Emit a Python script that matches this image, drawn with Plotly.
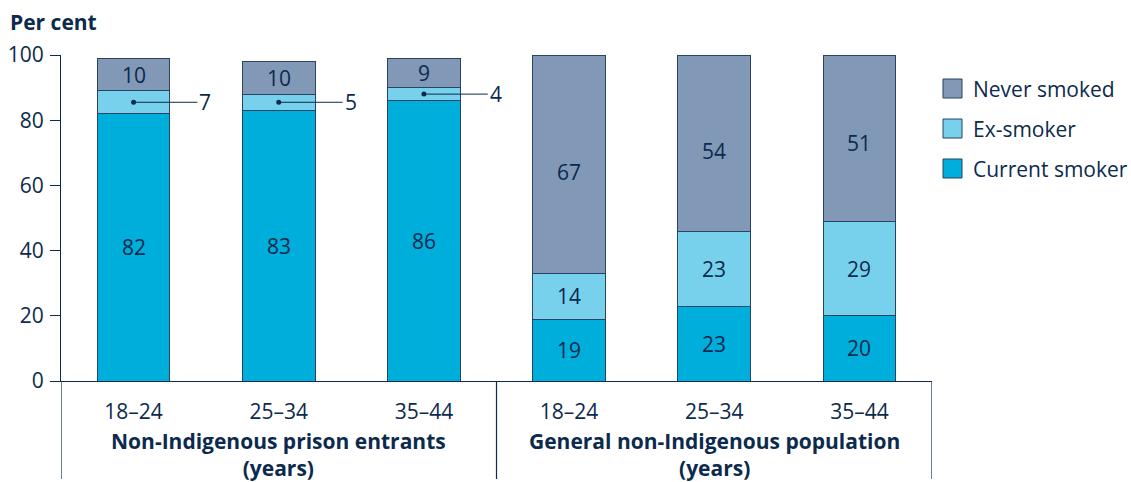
import plotly.graph_objects as go

categories = ["18–24", "25–34", "35–44", "18–24", "25–34", "35–44"]
groups = ["Non-Indigenous prison entrants<br>(years)", "General non-Indigenous population<br>(years)"]
current_smoker = [82, 83, 86, 19, 23, 20]
ex_smoker = [7, 5, 4, 14, 23, 29]
never_smoked = [10, 10, 9, 67, 54, 51]

series = [
    ("Current smoker", current_smoker, "#00aedb"),
    ("Ex-smoker", ex_smoker, "#77d1ec"),
    ("Never smoked", never_smoked, "#8198b6"),
]
# per-label vertical nudges (pixels) used by the original layout for the top segment labels
label_nudge = {"Never smoked": [0, 0, 0, -8, -8, -5]}

NAVY = "#0c2a4d"
FONT = "Open Sans"
FS = 21
L, R, T, B = 61, 199, 55, 101
W, H = 1131, 482
PW, PH = W - L - R, H - T - B

def px(xp):
    return (xp - L) / PW

def py(yp):
    return (H - B - yp) / PH

xs = list(range(len(categories)))
fig = go.Figure()
for name, vals, col in series:
    fig.add_trace(go.Bar(
        x=xs, y=vals, name=name, width=0.5,
        marker=dict(color=col, line=dict(color="#2a4263", width=1)),
        showlegend=False, hoverinfo="skip",
    ))

annotations = []
shapes = []
dot_x, dot_y = [], []
base = [0] * len(xs)
for name, vals, col in series:
    nud = label_nudge.get(name, [0] * len(xs))
    for i, v in enumerate(vals):
        mid = base[i] + v / 2
        if v < 8:
            dot_x.append(xs[i]); dot_y.append(mid)
            shapes.append(dict(type="line", xref="x", yref="y", x0=xs[i], x1=xs[i] + 0.44,
                               y0=mid, y1=mid, line=dict(color=NAVY, width=1)))
            annotations.append(dict(x=xs[i] + 0.44, y=mid, xref="x", yref="y", text=str(v),
                                    showarrow=False, xanchor="left", yanchor="middle",
                                    font=dict(size=FS, color=NAVY, family=FONT)))
        else:
            annotations.append(dict(x=xs[i], y=mid, xref="x", yref="y", text=str(v),
                                    showarrow=False, xanchor="center", yanchor="middle",
                                    yshift=nud[i],
                                    font=dict(size=FS, color=NAVY, family=FONT)))
        base[i] += v

fig.add_trace(go.Scatter(x=dot_x, y=dot_y, mode="markers",
                         marker=dict(color=NAVY, size=5), showlegend=False, hoverinfo="skip"))

# group labels
for gi, g in enumerate(groups):
    annotations.append(dict(x=1 + 3 * gi, y=py(425), xref="x", yref="paper", text="<b>" + g + "</b>",
                            showarrow=False, xanchor="center", yanchor="top",
                            font=dict(size=FS, color=NAVY, family=FONT)))

# vertical separators below axis
for xv in [-0.5, 2.5, 5.5]:
    shapes.append(dict(type="line", xref="x", yref="paper", x0=xv, x1=xv, y0=0, y1=py(479),
                       line=dict(color=NAVY, width=1.2)))

# manual legend
legend_items = [("Never smoked", "#8198b6", 79), ("Ex-smoker", "#77d1ec", 119), ("Current smoker", "#00aedb", 159)]
for name, col, top in legend_items:
    shapes.append(dict(type="rect", xref="paper", yref="paper", x0=px(943), x1=px(962),
                       y0=py(top + 19), y1=py(top), fillcolor=col, line=dict(color="#2a4263", width=1)))
    annotations.append(dict(x=px(971), y=py(top + 10), xref="paper", yref="paper", text=name,
                            showarrow=False, xanchor="left", yanchor="middle",
                            font=dict(size=FS, color=NAVY, family=FONT)))

annotations.append(dict(x=px(8), y=py(22), xref="paper", yref="paper", text="<b>Per cent</b>",
                        showarrow=False, xanchor="left", yanchor="middle",
                        font=dict(size=FS, color=NAVY, family=FONT)))

fig.update_layout(
    width=W, height=H, barmode="stack",
    margin=dict(l=L, r=R, t=T, b=B, pad=0, autoexpand=False),
    plot_bgcolor="white", paper_bgcolor="white",
    font=dict(family=FONT, color=NAVY, size=FS),
    annotations=annotations, shapes=shapes,
    xaxis=dict(range=[-0.5, 5.5], tickvals=xs, ticktext=categories, showline=True,
               linecolor=NAVY, linewidth=1.2, ticks="", showgrid=False, zeroline=False,
               automargin=False,
               tickfont=dict(size=FS, color=NAVY, family=FONT), ticklabelstandoff=12),
    yaxis=dict(range=[0, 100], tickvals=[0, 20, 40, 60, 80, 100], showline=True,
               linecolor=NAVY, linewidth=1.2, ticks="outside", ticklen=10, tickcolor=NAVY,
               tickwidth=1.2, showgrid=False, zeroline=False, automargin=False,
               tickfont=dict(size=FS, color=NAVY, family=FONT), ticklabelstandoff=2),
)

fig.write_html("out.html", config={"displayModeBar": False},
               post_script="document.body.style.margin='0';document.body.style.overflow='hidden';")
